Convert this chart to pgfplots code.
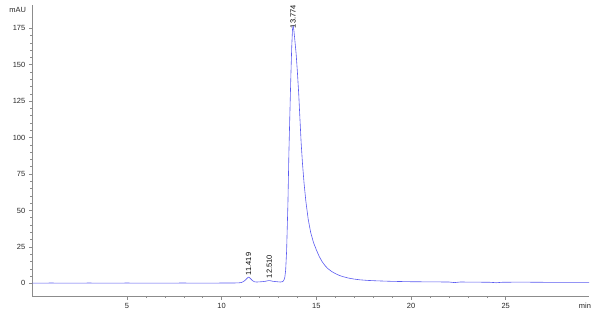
\documentclass[border=0pt]{standalone}
\usepackage{fontspec}
\setmainfont{Liberation Sans}
\usepackage{pgfplots}
\pgfplotsset{compat=1.18}
\definecolor{trace}{RGB}{90,90,240}
\definecolor{axgray}{RGB}{140,140,140}
\pgfplotstableread{
x y
0 0.1
1 0.2
2 0.1
3 0.2
4 0.1
5 0.2
6 0.1
7 0.15
8 0.2
9 0.1
10 0.2
10.5 0.2
10.9 0.3
11.05 0.6
11.15 1.2
11.25 2.2
11.33 3.3
11.38 3.9
11.42 4.3
11.46 4.0
11.52 3.3
11.6 2.2
11.68 1.4
11.75 1.0
11.85 0.9
12.0 1.0
12.2 1.2
12.35 1.5
12.45 1.8
12.52 1.9
12.6 1.7
12.7 1.4
12.85 1.2
13.0 1.0
13.1 0.9
13.2 1.1
13.26 1.6
13.3 2.6
13.34 4.5
13.38 9
13.43 22
13.5 55
13.55 89
13.6 115
13.65 140
13.7 162
13.74 174
13.774 177
13.81 174
13.85 169
13.93 158
14.0 145
14.07 130
14.13 114
14.2 96
14.27 82
14.35 69
14.45 56
14.57 44
14.7 35
14.85 28
15.0 23
15.15 18.5
15.3 15
15.45 12.3
15.6 10.2
15.8 8.2
16.0 6.7
16.2 5.5
16.4 4.6
16.7 3.6
17.0 2.9
17.3 2.4
17.7 2.0
18.2 1.7
19 1.35
20 1.1
21 1.0
22 0.9
22.3 0.5
22.6 0.9
23.5 0.8
24.2 0.7
24.5 0.4
24.8 0.7
25.5 0.8
26 0.8
27 0.7
28 0.7
29 0.6
29.4 0.6
}\chrom
\begin{document}
\begin{tikzpicture}
\begin{axis}[
  scale only axis, width=556.7bp, height=291bp,
  xmin=0, xmax=29.4, ymin=-8.7, ymax=191,
  axis lines*=left,
  xtick={5,10,15,20,25}, ytick={0,25,50,75,100,125,150,175},
  minor x tick num=4, minor y tick num=4,
  tick align=outside, major tick length=3.5bp, minor tick length=2bp,
  tick style={axgray, line width=0.5pt}, axis line style={axgray, line width=0.6pt},
  tick label style={font=\fontsize{7.5}{9}\selectfont, text=black!85},
  /pgf/number format/assume math mode=true,
  clip=false,
]
\addplot[trace, line width=0.6pt, line join=round] table[x=x,y=y] {\chrom};
\coordinate (sw) at (rel axis cs:0,0);
\coordinate (ne) at (rel axis cs:1,1);
\node[anchor=east, font=\fontsize{7.5}{9}\selectfont, text=black!85, inner sep=0pt] at ([xshift=-6bp,yshift=-5bp]rel axis cs:0,1) {mAU};
\node[font=\fontsize{7.5}{9}\selectfont, text=black!85, inner sep=0pt] at ([xshift=-4bp,yshift=-10bp]rel axis cs:1,0) {min};
\node[rotate=90, anchor=west, font=\fontsize{7.5}{9}\selectfont, inner sep=0pt] at (axis cs:13.774,175) {13.774};
\node[rotate=90, anchor=west, font=\fontsize{7.5}{9}\selectfont, inner sep=0pt] at (axis cs:11.419,5.5) {11.419};
\node[rotate=90, anchor=west, font=\fontsize{7.5}{9}\selectfont, inner sep=0pt] at (axis cs:12.51,3.5) {12.510};
\end{axis}
\pgfresetboundingbox
\path[use as bounding box] ([xshift=-32.3bp,yshift=-21bp]sw) rectangle ([xshift=11bp,yshift=5bp]ne);
\end{tikzpicture}
\end{document}
